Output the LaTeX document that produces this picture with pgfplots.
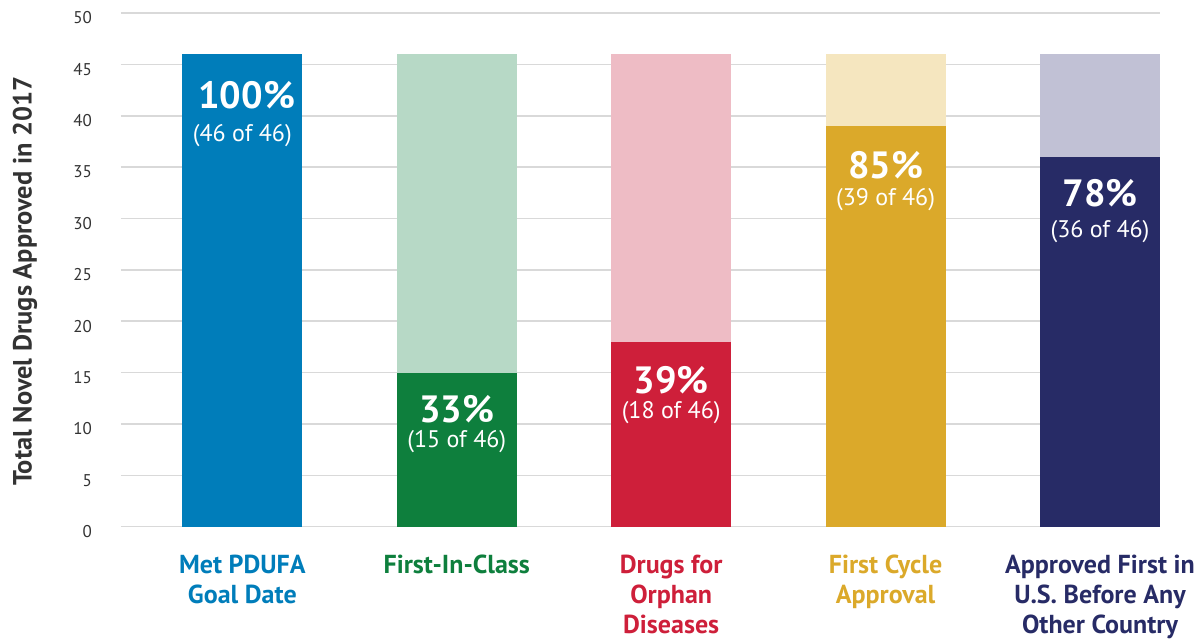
\documentclass[border=0pt]{standalone}
\usepackage{fontspec}
\setmainfont{PT Sans}
\usepackage{pgfplots}
\pgfplotsset{compat=1.18}
\definecolor{cBlue}{HTML}{007DBA}
\definecolor{cGreen}{HTML}{0E7F3D}
\definecolor{cGreenL}{HTML}{B7D9C6}
\definecolor{cRed}{HTML}{CE1F3A}
\definecolor{cRedL}{HTML}{EEBCC5}
\definecolor{cGold}{HTML}{DBA92A}
\definecolor{cGoldL}{HTML}{F5E6BF}
\definecolor{cNavy}{HTML}{272B66}
\definecolor{cNavyL}{HTML}{C1C1D5}
\definecolor{cText}{HTML}{333333}
\begin{document}
\begin{tikzpicture}
\begin{axis}[
  scale only axis, width=519.5pt, height=256.85pt,
  xmin=-0.566, xmax=4.280, ymin=0, ymax=50,
  axis line style={draw=none}, tick style={draw=none},
  ytick={0,5,...,50}, ymajorgrids,
  grid style={color=black!15, line width=0.75pt},
  xtick={0,1,2,3,4},
  xticklabels={{\textcolor{cBlue}{Met PDUFA}\\\textcolor{cBlue}{Goal Date}},
               {\textcolor{cGreen}{First-In-Class}},
               {\textcolor{cRed}{Drugs for}\\\textcolor{cRed}{Orphan}\\\textcolor{cRed}{Diseases}},
               {\textcolor{cGold}{First Cycle}\\\textcolor{cGold}{Approval}},
               {\textcolor{cNavy}{Approved First in}\\\textcolor{cNavy}{U.S. Before Any}\\\textcolor{cNavy}{Other Country}}},
  xticklabel style={align=center, font=\bfseries\fontsize{13}{15}\selectfont, yshift=-10.5pt},
  yticklabel style={font=\fontsize{8.5}{10}\selectfont, text=cText, xshift=-11pt, yshift=-2.5pt},
  /pgf/number format/assume math mode=true,
  ylabel={Total Novel Drugs Approved in 2017},
  ylabel style={at={(axis description cs:-0.0925,0.478)}, anchor=center,
    font=\bfseries\fontsize{13.2}{15}\selectfont, text=cText},
]
% backgrounds
\addplot[ybar, bar width=60pt, bar shift=0pt, draw=none, fill=cGreenL] coordinates {(1,46)};
\addplot[ybar, bar width=60pt, bar shift=0pt, draw=none, fill=cRedL] coordinates {(2,46)};
\addplot[ybar, bar width=60pt, bar shift=0pt, draw=none, fill=cGoldL] coordinates {(3,46)};
\addplot[ybar, bar width=60pt, bar shift=0pt, draw=none, fill=cNavyL] coordinates {(4,46)};
% values
\addplot[ybar, bar width=60pt, bar shift=0pt, draw=none, fill=cBlue] coordinates {(0,46)};
\addplot[ybar, bar width=60pt, bar shift=0pt, draw=none, fill=cGreen] coordinates {(1,15)};
\addplot[ybar, bar width=60pt, bar shift=0pt, draw=none, fill=cRed] coordinates {(2,18)};
\addplot[ybar, bar width=60pt, bar shift=0pt, draw=none, fill=cGold] coordinates {(3,39)};
\addplot[ybar, bar width=60pt, bar shift=0pt, draw=none, fill=cNavy] coordinates {(4,36)};
% labels
\tikzset{pct/.style={text=white, font=\bfseries\fontsize{19}{22}\selectfont},
         sub/.style={text=white, font=\fontsize{12}{14}\selectfont}}
\node[pct] at (axis cs:0.02,42.0) {100\%};
\node[sub] at (axis cs:0,38.1) {(46 of 46)};
\node[pct] at (axis cs:1,11.4) {33\%};
\node[sub] at (axis cs:1,8.25) {(15 of 46)};
\node[pct] at (axis cs:2,14.3) {39\%};
\node[sub] at (axis cs:2,11.1) {(18 of 46)};
\node[pct] at (axis cs:3,35.2) {85\%};
\node[sub] at (axis cs:3,31.8) {(39 of 46)};
\node[pct] at (axis cs:4,32.5) {78\%};
\node[sub] at (axis cs:4,28.7) {(36 of 46)};
\end{axis}
\pgfresetboundingbox
\path[use as bounding box] (current axis.south west) ++(-60.5pt,-55.65pt) rectangle ++(598.5pt,319pt);
\end{tikzpicture}
\end{document}
